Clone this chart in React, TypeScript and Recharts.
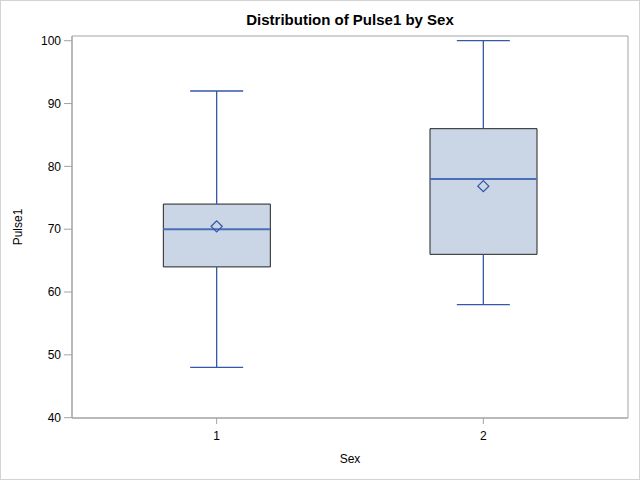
import React from "react";
import {
  ComposedChart,
  Bar,
  Scatter,
  ErrorBar,
  XAxis,
  YAxis,
  ReferenceArea,
} from "recharts";

const categories = [1, 2];
const minValues = [48, 58];
const q1Values = [64, 66];
const medianValues = [70, 78];
const q3Values = [74, 86];
const maxValues = [92, 100];
const meanValues = [70.45, 76.85];
const yTicks = [40, 50, 60, 70, 80, 90, 100];

const data = categories.map((c, i) => ({
  sex: c,
  min: minValues[i],
  q1: q1Values[i],
  q3: q3Values[i],
  max: maxValues[i],
  box: [q1Values[i], q3Values[i]],
  median: medianValues[i],
  mean: meanValues[i],
  upperStem: [0, maxValues[i] - q3Values[i]],
  lowerStem: [q1Values[i] - minValues[i], 0],
}));

const FONT = "'Liberation Sans', Arial, Helvetica, sans-serif";
const BLUE = "#3557A8";
const BOX_W = 107;
const CAP_W = 53;

const Hidden = () => <g />;

const makeHLine = (w: number, color: string, sw: number) => (props: any) => {
  const { cx, cy } = props;
  return (
    <line
      x1={cx - w / 2}
      x2={cx + w / 2}
      y1={cy}
      y2={cy}
      stroke={color}
      strokeWidth={sw}
    />
  );
};

const MedianLine = makeHLine(BOX_W, "#4A6FB8", 2);
const CapLine = makeHLine(CAP_W, BLUE, 1.3);

const Diamond = (props: any) => {
  const { cx, cy } = props;
  const r = 5.5;
  return (
    <path
      d={`M${cx},${cy - r}L${cx + r},${cy}L${cx},${cy + r}L${cx - r},${cy}Z`}
      fill="none"
      stroke={BLUE}
      strokeWidth={1.3}
    />
  );
};

export default function App() {
  return (
    <div
      style={{
        position: "absolute",
        left: 0,
        top: 0,
        width: 640,
        height: 480,
        background: "#ffffff",
        fontFamily: FONT,
      }}
    >
      <div
        style={{
          position: "absolute",
          left: 72,
          width: 556,
          top: 11,
          textAlign: "center",
          fontWeight: "bold",
          fontSize: 15,
          color: "#000",
          lineHeight: "18px",
        }}
      >
        Distribution of Pulse1 by Sex
      </div>
      <ComposedChart
        width={640}
        height={480}
        data={data}
        margin={{ top: 36, right: 12, bottom: 0, left: 0 }}
        style={{ position: "absolute", left: 0, top: 0 }}
      >
        <XAxis
          dataKey="sex"
          type="number"
          domain={[0.4575, 2.5425]}
          ticks={categories}
          allowDataOverflow
          height={62}
          tickSize={6}
          tickMargin={7}
          stroke="#A0A4A8"
          tick={{ fill: "#000", fontSize: 12, fontFamily: FONT }}
          label={{
            value: "Sex",
            position: "insideBottom",
            offset: 17,
            fill: "#000",
            fontSize: 12,
            fontFamily: FONT,
          }}
        />
        <YAxis
          type="number"
          domain={[39.95, 100.75]}
          ticks={yTicks}
          allowDataOverflow
          width={72}
          tickSize={8}
          tickMargin={3}
          stroke="#A0A4A8"
          tick={{ fill: "#000", fontSize: 12, fontFamily: FONT }}
          label={{
            value: "Pulse1",
            angle: -90,
            position: "insideLeft",
            offset: 17.5,
            fill: "#000",
            fontSize: 12,
            fontFamily: FONT,
            style: { textAnchor: "middle" },
          }}
        />
        <ReferenceArea
          x1={0.4575}
          x2={2.5425}
          y1={39.95}
          y2={100.75}
          fill="none"
          stroke="#A0A4A8"
          strokeWidth={1}
          fillOpacity={0}
          ifOverflow="visible"
        />
        <Bar
          dataKey="box"
          barSize={BOX_W}
          fill="#CAD5E6"
          stroke="#222"
          strokeWidth={1}
          isAnimationActive={false}
        />
        <Scatter dataKey="q3" shape={Hidden} isAnimationActive={false} legendType="none">
          <ErrorBar
            dataKey="upperStem"
            direction="y"
            width={0}
            stroke={BLUE}
            strokeWidth={1.3}
            isAnimationActive={false}
          />
        </Scatter>
        <Scatter dataKey="q1" shape={Hidden} isAnimationActive={false} legendType="none">
          <ErrorBar
            dataKey="lowerStem"
            direction="y"
            width={0}
            stroke={BLUE}
            strokeWidth={1.3}
            isAnimationActive={false}
          />
        </Scatter>
        <Scatter dataKey="max" shape={CapLine} isAnimationActive={false} legendType="none" />
        <Scatter dataKey="min" shape={CapLine} isAnimationActive={false} legendType="none" />
        <Scatter dataKey="median" shape={MedianLine} isAnimationActive={false} legendType="none" />
        <Scatter dataKey="mean" shape={Diamond} isAnimationActive={false} legendType="none" />
      </ComposedChart>
      <div
        style={{
          position: "absolute",
          left: 0,
          top: 0,
          width: 640,
          height: 480,
          boxSizing: "border-box",
          border: "1px solid #D3D3D3",
          pointerEvents: "none",
        }}
      />
    </div>
  );
}
